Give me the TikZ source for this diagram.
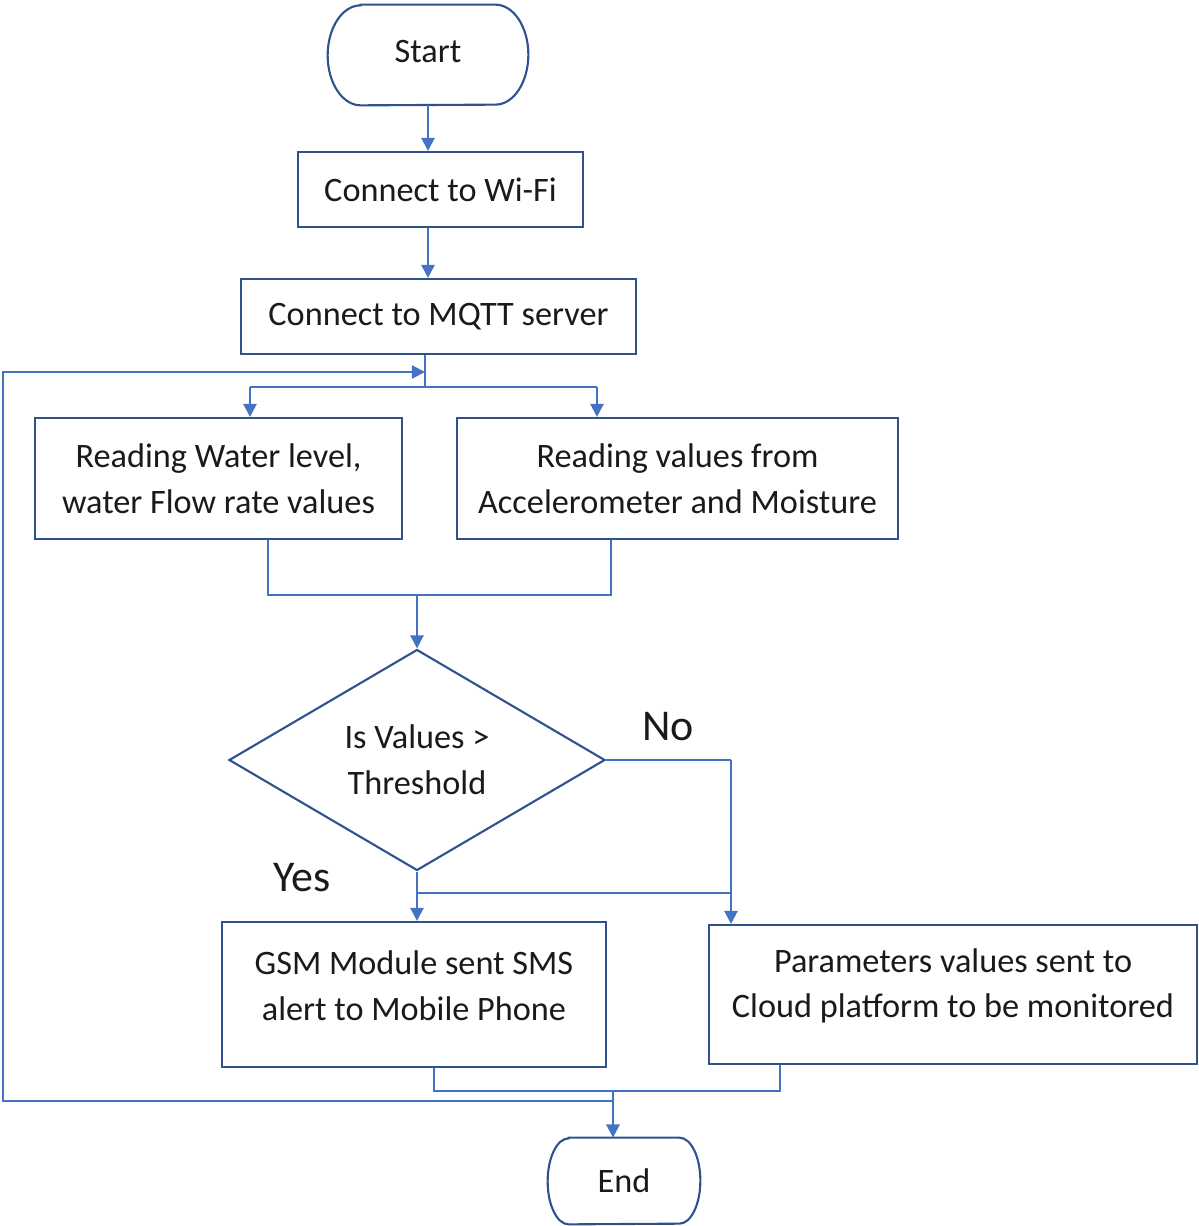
\documentclass[tikz,border=0pt]{standalone}
\usepackage{fontspec}
\setmainfont{Carlito}
\usetikzlibrary{arrows.meta,shapes.geometric,calc}
\definecolor{lineblue}{HTML}{4472C4}
\definecolor{boxblue}{HTML}{2F528F}
\definecolor{txt}{HTML}{1A1A1A}
\begin{document}
\begin{tikzpicture}[
  font=\fontsize{19.5}{26}\selectfont,
  every node/.style={text=txt},
  box/.style={draw=boxblue, line width=1.2pt, align=center, inner sep=0pt},
  term/.style={draw=none, inner sep=0pt},
  termline/.style={draw=boxblue, line width=1.2pt},
  conn/.style={draw=lineblue, line width=1.3pt},
  arr/.style={conn, -{Triangle[width=7.5pt,length=7.5pt]}},
  lbl/.style={font=\fontsize{25}{30}\selectfont},
  raised/.style={label={[align=center, yshift=0.17cm, text=txt]center:#1}}
]
\useasboundingbox (0,0) rectangle (23.96,-24.52);

% nodes
\node[term, minimum width=4cm, minimum height=2cm, label={[yshift=0.06cm, text=txt]center:Start}] (start) at (8.56,-1.10) {};
\draw[termline] ([xshift=0.66cm]start.north west) -- ([xshift=-0.66cm]start.north east)
  arc[start angle=90,end angle=-90,x radius=0.66cm,y radius=1cm]
  -- ([xshift=0.66cm]start.south west)
  arc[start angle=270,end angle=90,x radius=0.66cm,y radius=1cm] -- cycle;

\node[box, minimum width=5.7cm, minimum height=1.5cm] (wifi) at (8.81,-3.79) {Connect to Wi-Fi};
\node[box, minimum width=7.9cm, minimum height=1.5cm] (mqtt) at (8.77,-6.33) {Connect to MQTT server};
\node[box, minimum width=7.34cm, minimum height=2.42cm] (left) at (4.37,-9.57) {Reading Water level,\\water Flow rate values};
\node[box, minimum width=8.82cm, minimum height=2.42cm] (right) at (13.55,-9.57) {Reading values from\\Accelerometer and Moisture};
\node[box, diamond, aspect=1.7, minimum width=7.52cm, minimum height=4.42cm] (dec) at (8.34,-15.2) {Is Values {>}\\Threshold};
\node[box, minimum width=7.68cm, minimum height=2.9cm, raised={GSM Module sent SMS\\alert to Mobile Phone}] (gsm) at (8.28,-19.89) {};
\node[box, minimum width=9.76cm, minimum height=2.78cm, raised={Parameters values sent to\\Cloud platform to be monitored}] (param) at (19.06,-19.89) {};

\node[term, minimum width=3.04cm, minimum height=1.72cm] (end) at (12.48,-23.62) {End};
\draw[termline] ([xshift=0.42cm]end.north west) -- ([xshift=-0.42cm]end.north east)
  arc[start angle=90,end angle=-90,x radius=0.42cm,y radius=0.86cm]
  -- ([xshift=0.42cm]end.south west)
  arc[start angle=270,end angle=90,x radius=0.42cm,y radius=0.86cm] -- cycle;

\node[lbl] (no) at (13.36,-14.54) {No};
\node[lbl] (yes) at (6.04,-17.56) {Yes};

% helper coordinates
\coordinate (loopin) at (8.5,-7.44);
\coordinate (split) at (8.5,-7.74);
\coordinate (splitL) at (5.0,-7.74);
\coordinate (splitR) at (11.94,-7.74);
\coordinate (mL) at (5.36,-11.9);
\coordinate (mR) at (12.22,-11.9);
\coordinate (mC) at (dec.north |- mL);
\coordinate (noC) at (14.62,-15.2);
\coordinate (yC) at (14.62,-17.86);
\coordinate (bL) at (8.68,-21.82);
\coordinate (bR) at (15.6,-21.82);
\coordinate (bC) at (12.26,-21.82);
\coordinate (lpB) at (12.26,-22.02);
\coordinate (lpBL) at (0.06,-22.02);
\coordinate (lpTL) at (0.06,-7.44);

% connectors
\draw[arr] (start.south) -- (start.south |- wifi.north);
\draw[arr] (wifi.south -| start.south) -- (start.south |- mqtt.north);
\draw[conn] (mqtt.south -| split) -- (split);
\draw[conn] (splitL) -- (splitR);
\draw[arr] (splitL) -- (splitL |- left.north);
\draw[arr] (splitR) -- (splitR |- right.north);
\draw[conn] (mL |- left.south) -- (mL) -- (mR) -- (mR |- right.south);
\draw[arr] (mC) -- (dec.north);
\draw[conn] (dec.east) -- (noC);
\draw[arr] (noC) -- (noC |- param.north);
\draw[arr] (dec.south) -- (dec.south |- gsm.north);
\draw[conn] (dec.south |- yC) -- (yC);
\draw[conn] (bL |- gsm.south) -- (bL) -- (bR) -- (bR |- param.south);
\draw[arr] (bC) -- (bC |- end.north);
\draw[arr] (lpB) -- (lpBL) -- (lpTL) -- (loopin);
\end{tikzpicture}
\end{document}
